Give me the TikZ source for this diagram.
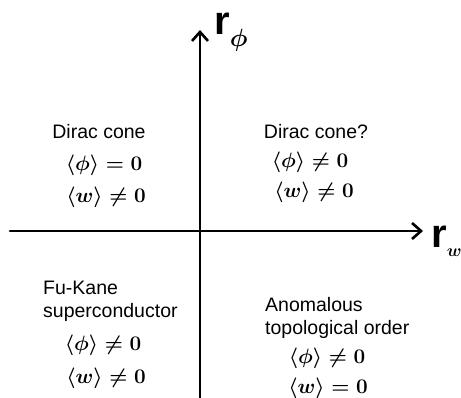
\documentclass[tikz,border=0pt]{standalone}
\usepackage{fontspec}
\setmainfont{Liberation Sans}
\usepackage{amsmath}
\usetikzlibrary{arrows.meta}
\begin{document}
\begin{tikzpicture}[x=1pt,y=-1pt,
  axis/.style={line width=2.6pt,line cap=round},
  phase/.style={font=\fontsize{19.5}{24}\selectfont,align=left,inner sep=0pt},
  vev/.style={font=\fontsize{21}{24}\selectfont\boldmath,inner sep=0pt},
  axlabel/.style={font=\fontsize{40}{40}\selectfont\bfseries,inner sep=0pt,anchor=base west}]
\useasboundingbox (0,0) rectangle (461,398);
\coordinate (ytop) at (200,30);
\coordinate (ybot) at (200,400);
\coordinate (xleft) at (10,231);
\coordinate (xright) at (423,231);
\draw[axis,-{Straight Barb[length=9pt,width=16pt,line width=2.6pt]}] (ybot) -- (ytop);
\draw[axis,-{Straight Barb[length=9pt,width=16pt,line width=2.6pt]}] (xleft) -- (xright);
\node[axlabel] (rphi) at (214,35) {r\raisebox{-12pt}{\fontsize{24}{24}\selectfont$\boldsymbol{\phi}$}};
\node[axlabel] (rw) at (431,248) {r\raisebox{-9pt}{\fontsize{16}{16}\selectfont$\boldsymbol{w}$}};
% top left
\node[phase] (tl) at (99,132) {Dirac cone};
\node[vev] (tl1) at (104,165) {$\langle\phi\rangle = 0$};
\node[vev] (tl2) at (106,197) {$\langle w\rangle \neq 0$};
% top right
\node[phase] (tr) at (316,132) {Dirac cone?};
\node[vev] (tr1) at (310,162) {$\langle\phi\rangle \neq 0$};
\node[vev] (tr2) at (314,192) {$\langle w\rangle \neq 0$};
% bottom left
\node[phase,anchor=west] (bl) at (43,301) {Fu-Kane\\[-1pt]superconductor};
\node[vev] (bl1) at (103,345) {$\langle\phi\rangle \neq 0$};
\node[vev] (bl2) at (106,378) {$\langle w\rangle \neq 0$};
% bottom right
\node[phase,anchor=west] (br) at (265,318) {Anomalous\\[-1pt]topological order};
\node[vev] (br1) at (327,358) {$\langle\phi\rangle \neq 0$};
\node[vev] (br2) at (328,388) {$\langle w\rangle = 0$};
\end{tikzpicture}
\end{document}
